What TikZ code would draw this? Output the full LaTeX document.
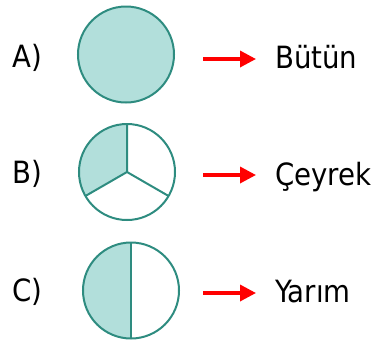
\documentclass[tikz,border=0pt]{standalone}
\usepackage{fontspec}
\setmainfont{DejaVu Sans Condensed}
\usetikzlibrary{arrows.meta}

\definecolor{tealfill}{RGB}{178,223,219}
\definecolor{tealline}{RGB}{46,140,128}

\tikzset{
  part/.style={circle,minimum size=72pt,inner sep=0pt},
  rim/.style={draw=tealline,line width=1.5pt},
  txtlabel/.style={anchor=base west,inner sep=0pt,font=\fontsize{23}{28}\selectfont},
  redarrow/.style={draw={rgb,255:red,255;green,0;blue,0},line width=2.6pt,-{Triangle[length=12pt,width=12pt]}}
}

\begin{document}
\begin{tikzpicture}[x=0.75pt,y=0.75pt,yscale=-1,xscale=1]
\useasboundingbox (0,0) rectangle (376,340);

%Shape: Circle A (whole)
\node [part,rim,fill=tealfill] (circA) at (126,54.5) {};
%Shape: Circle B (one of three)
\node [part] (circB) at (127,172) {};
\fill [tealfill] (circB.center) -- (circB.north) arc (-90:-210:36pt) -- cycle;
\draw [rim] (circB.center) -- (circB.north) (circB.center) -- (circB.-150) (circB.center) -- (circB.-30);
\draw [rim] (circB) circle (36pt);
%Shape: Circle C (half)
\node [part] (circC) at (131,290.5) {};
\fill [tealfill] (circC.north) arc (-90:-270:36pt) -- cycle;
\draw [rim] (circC.north) -- (circC.south);
\draw [rim] (circC) circle (36pt);

%Straight Lines
\coordinate (sA) at (203,59);  \coordinate (eA) at (256,59);
\coordinate (sB) at (203,175); \coordinate (eB) at (256,175);
\coordinate (sC) at (203,293); \coordinate (eC) at (256,293);
\draw [redarrow] (sA) -- (eA);
\draw [redarrow] (sB) -- (eB);
\draw [redarrow] (sC) -- (eC);

% Text Node
\node [txtlabel] (labA) at (12,67) {A)};
\node [txtlabel] (labB) at (12,183) {B)};
\node [txtlabel] (labC) at (12,301) {C)};
% Text Node
\node [txtlabel] (nameA) at (275,68) {Bütün};
\node [txtlabel] (nameB) at (275,185) {Çeyrek};
\node [txtlabel] (nameC) at (275,302) {Yarım};

\end{tikzpicture}
\end{document}
